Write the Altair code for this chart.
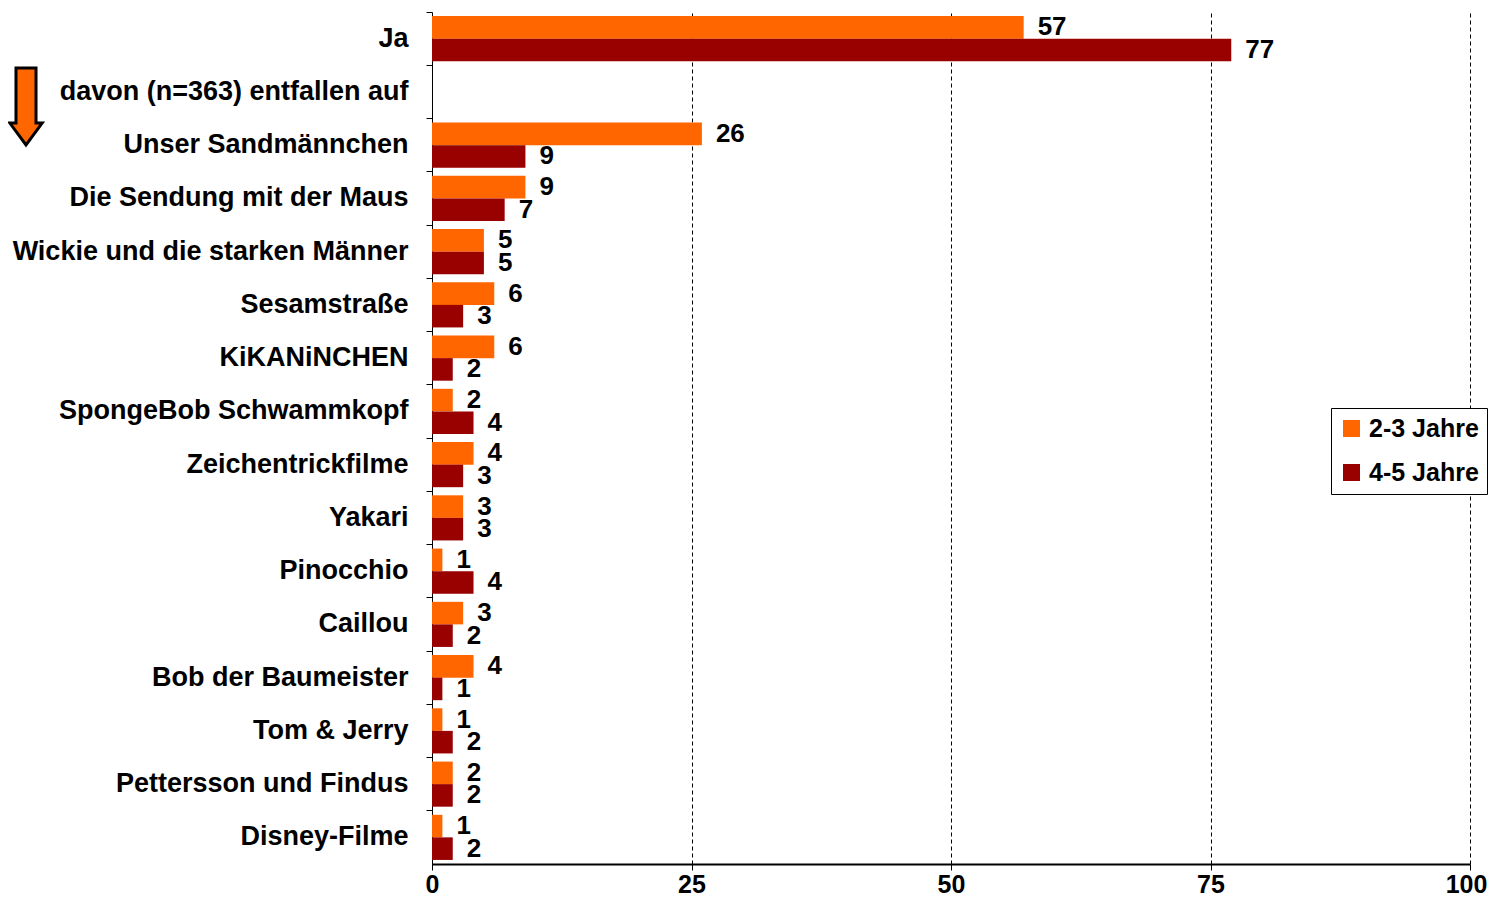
import altair as alt
import pandas as pd

categories = ["Ja", "davon (n=363) entfallen auf", "Unser Sandmännchen", "Die Sendung mit der Maus",
              "Wickie und die starken Männer", "Sesamstraße", "KiKANiNCHEN", "SpongeBob Schwammkopf",
              "Zeichentrickfilme", "Yakari", "Pinocchio", "Caillou", "Bob der Baumeister",
              "Tom & Jerry", "Pettersson und Findus", "Disney-Filme"]
series = ["2-3 Jahre", "4-5 Jahre"]
vals_23 = [57, None, 26, 9, 5, 6, 6, 2, 4, 3, 1, 3, 4, 1, 2, 1]
vals_45 = [77, None, 9, 7, 5, 3, 2, 4, 3, 3, 4, 2, 1, 2, 2, 2]
x_ticks = [0, 25, 50, 75, 100]
colors = ["#FF6600", "#990000"]

rows = []
for c, a, b in zip(categories, vals_23, vals_45):
    if a is not None:
        rows.append({"cat": c, "grp": series[0], "val": a})
    if b is not None:
        rows.append({"cat": c, "grp": series[1], "val": b})
df = pd.DataFrame(rows)

FONT = "Liberation Sans"
W, H = 1038, 852

y_enc = alt.Y("cat:N", sort=categories,
              scale=alt.Scale(domain=categories, paddingInner=0, paddingOuter=0),
              axis=alt.Axis(title=None, labelFontSize=27, labelFont=FONT, labelFontWeight="bold",
                            labelColor="black", labelLimit=600, labelPadding=18,
                            tickColor="black", tickSize=6, domainColor="black", domainWidth=1,
                            bandPosition=0, grid=False))
yoff = alt.YOffset("grp:N", sort=series,
                   scale=alt.Scale(domain=series, paddingOuter=0.18, paddingInner=0))
x_enc = alt.X("val:Q", scale=alt.Scale(domain=[0, 100], nice=False),
              axis=alt.Axis(title=None, values=x_ticks, labelFontSize=25, labelFont=FONT,
                            labelFontWeight="bold", labelColor="black", labelPadding=2,
                            labelFlush=False,
                            labelOffset={"condition": {"test": "datum.value == 100", "value": -4},
                                         "value": 0},
                            tickColor="black", tickSize=6, domainColor="black", domainWidth=2,
                            grid=True, gridColor="black", gridDash=[4, 3], gridWidth=1))

bars = alt.Chart(df).mark_bar().encode(
    y=y_enc, yOffset=yoff, x=x_enc,
    color=alt.Color("grp:N", sort=series,
                    scale=alt.Scale(domain=series, range=colors),
                    legend=alt.Legend(title=None, orient="none", legendX=899, legendY=396,
                                      direction="vertical", symbolType="square", symbolSize=289,
                                      symbolStrokeWidth=0, labelFontSize=25, labelFont=FONT,
                                      labelFontWeight="bold", labelColor="black",
                                      strokeColor="black", fillColor="white", padding=8,
                                      rowPadding=18, labelOffset=5)),
)

labels = alt.Chart(df).mark_text(align="left", baseline="middle", dx=14, fontSize=26,
                                 font=FONT, fontWeight="bold", color="black").encode(
    y=alt.Y("cat:N", sort=categories), yOffset=alt.YOffset("grp:N", sort=series),
    x="val:Q", text="val:Q")

arrow = alt.Chart(pd.DataFrame({"a": [1]})).mark_point(
    shape="M -0.26 -1 L 0.26 -1 L 0.26 0.43 L 0.42 0.43 L 0 1 L -0.42 0.43 L -0.26 0.43 Z",
    filled=True, fill="#FF6600", stroke="black", strokeWidth=3, size=5929, opacity=1,
).encode(x=alt.value(-406), y=alt.value(94.5))

chart = alt.layer(bars, labels, arrow).properties(
    width=W, height=H,
    autosize=alt.AutoSizeParams(type="none"),
    padding={"left": 424, "top": 4, "right": 19, "bottom": 34},
).configure_view(stroke=None)

chart.save("out.html", embed_options={"renderer": "svg", "actions": False})
